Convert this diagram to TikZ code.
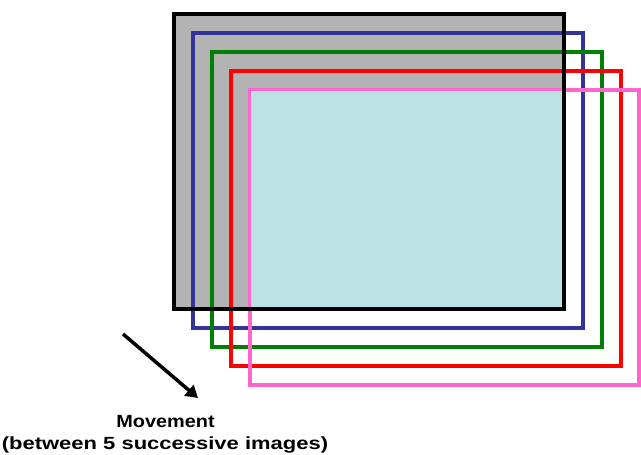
\documentclass[tikz,border=0pt]{standalone}
\usepackage{fontspec}
\setmainfont{Liberation Sans}
\usetikzlibrary{arrows.meta}
\definecolor{fgray}{HTML}{B3B3B3}
\definecolor{fcyan}{HTML}{BDE2E5}
\definecolor{fblue}{HTML}{333399}
\definecolor{fgreen}{HTML}{008000}
\definecolor{fred}{HTML}{FF0000}
\definecolor{fpink}{HTML}{FF66CC}
\begin{document}
\begin{tikzpicture}[x=1pt,y=-1pt,
  frame/.style={line width=4.2pt},
  lbl/.style={font=\bfseries\fontsize{17.6}{20}\selectfont, anchor=base, inner sep=0pt}]
\useasboundingbox (0,0) rectangle (641,455);
% image frames
\coordinate (k1) at (174,14);  \coordinate (k2) at (564,309);
\coordinate (b1) at (193,33);  \coordinate (b2) at (583,328);
\coordinate (g1) at (212,52);  \coordinate (g2) at (602,347);
\coordinate (r1) at (231,71);  \coordinate (r2) at (621,366);
\coordinate (p1) at (250,90);  \coordinate (p2) at (639,385);
\fill[fgray] (k1) rectangle (k2);
\draw[frame,fblue] (b1) rectangle (b2);
\draw[frame,fgreen] (g1) rectangle (g2);
\draw[frame,fred] (r1) rectangle (r2);
\draw[frame,fpink] (p1) rectangle (p2);
\fill[fcyan] (251.2,91.2) rectangle (k2);
\draw[frame,black] (k1) rectangle (k2);
% movement arrow
\coordinate (a1) at (123,334);
\coordinate (a2) at (198,398);
\draw[line width=3.5pt,-{Triangle[length=12pt,width=14pt]}] (a1) -- (a2);
\node[lbl] (t1) at (165.5,427.5) {\scalebox{1.13}[1]{Movement}};
\node[lbl] (t2) at (165,449.5) {\scalebox{1.25}[1]{(between 5 successive images)}};
\end{tikzpicture}
\end{document}
